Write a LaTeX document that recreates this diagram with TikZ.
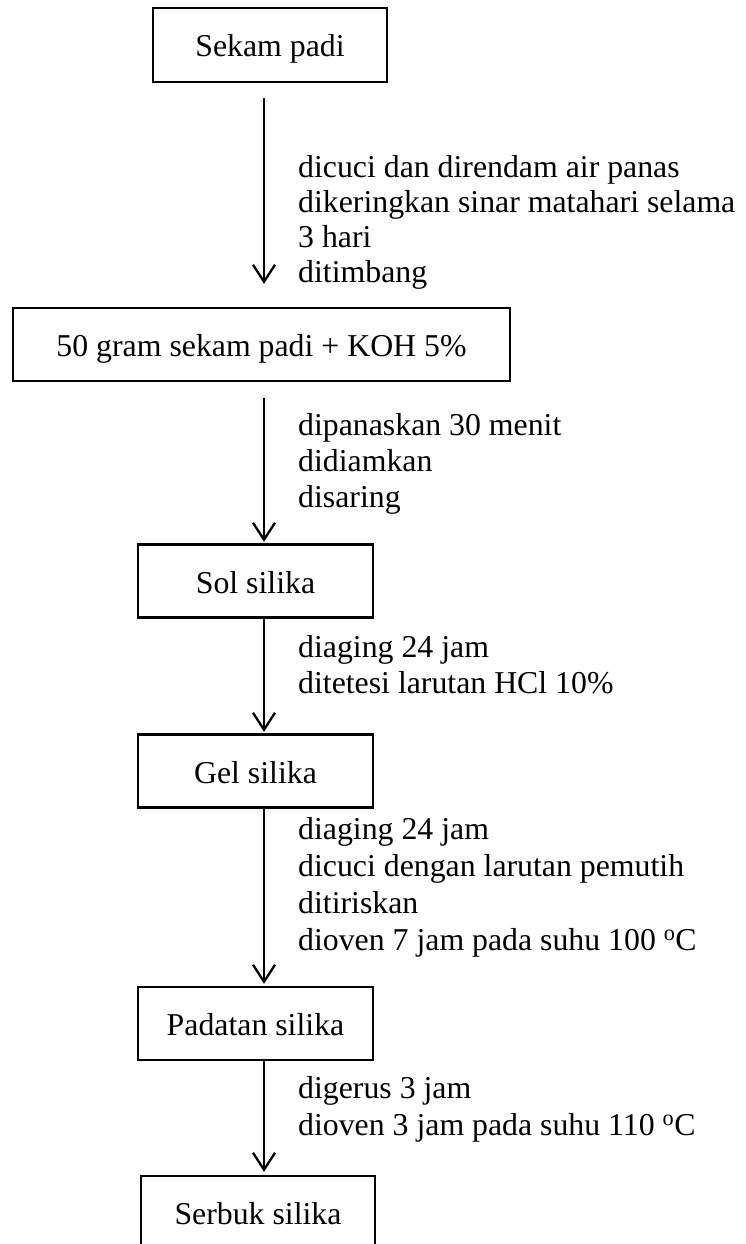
\documentclass[tikz,border=0pt]{standalone}
\usepackage{fontspec}
\setmainfont{Liberation Serif}
\usetikzlibrary{arrows.meta,calc}
\begin{document}
\begin{tikzpicture}[x=1pt,y=-1pt,
  font=\fontsize{31.8}{36}\selectfont,
  box/.style={draw,line width=2.3pt,inner sep=0pt,text height=24pt,text depth=0pt,minimum height=73pt},
  lbl/.style={anchor=base west,align=left,inner sep=0pt},
  flow/.style={line width=2.3pt,-{Straight Barb[length=17pt,width=22pt]}}]
\useasboundingbox (0,0) rectangle (745,1244);
\clip (0,0) rectangle (745,1244);
\coordinate (col) at (264,0);
\node[box,minimum width=234pt,minimum height=74pt] (b1) at (270,45) {Sekam padi};
\node[box,minimum width=497pt] (b2) at (261.5,344.5) {50 gram sekam padi + KOH 5\%};
\node[box,minimum width=235pt] (b3) at (255.5,581) {Sol silika};
\node[box,minimum width=235pt] (b4) at (255.5,771) {Gel silika};
\node[box,minimum width=235pt] (b5) at (255.5,1023.5) {Padatan silika};
\node[box,minimum width=234pt] (b6) at (258,1212.5) {Serbuk silika};
\draw[flow] ($(b1.south -| col)+(0,15)$) -- ($(b2.north -| col)+(0,-23)$);
\draw[flow] ($(b2.south -| col)+(0,16)$) -- ($(b3.north -| col)+(0,-1.5)$);
\draw[flow] (b3.south -| col) -- ($(b4.north -| col)+(0,-1.5)$);
\draw[flow] (b4.south -| col) -- ($(b5.north -| col)+(0,-2)$);
\draw[flow] (b5.south -| col) -- ($(b6.north -| col)+(0,-3)$);
% anchor = baseline of the last line
\node[lbl,font=\fontsize{31.8}{35}\selectfont] (l1) at (298,282)
  {dicuci dan direndam air panas\\dikeringkan sinar matahari selama\\3 hari\\ditimbang};
\node[lbl] (l2) at (298,507) {dipanaskan 30 menit\\didiamkan\\disaring};
\node[lbl] (l3) at (298,693) {diaging 24 jam\\ditetesi larutan HCl 10\%};
\node[lbl,font=\fontsize{31.8}{36.7}\selectfont] (l4) at (298,950)
  {diaging 24 jam\\dicuci dengan larutan pemutih\\ditiriskan\\dioven 7 jam pada suhu 100 \textsuperscript{o}C};
\node[lbl,font=\fontsize{31.8}{37}\selectfont] (l5) at (298,1135)
  {digerus 3 jam\\dioven 3 jam pada suhu 110 \textsuperscript{o}C};
\end{tikzpicture}
\end{document}
